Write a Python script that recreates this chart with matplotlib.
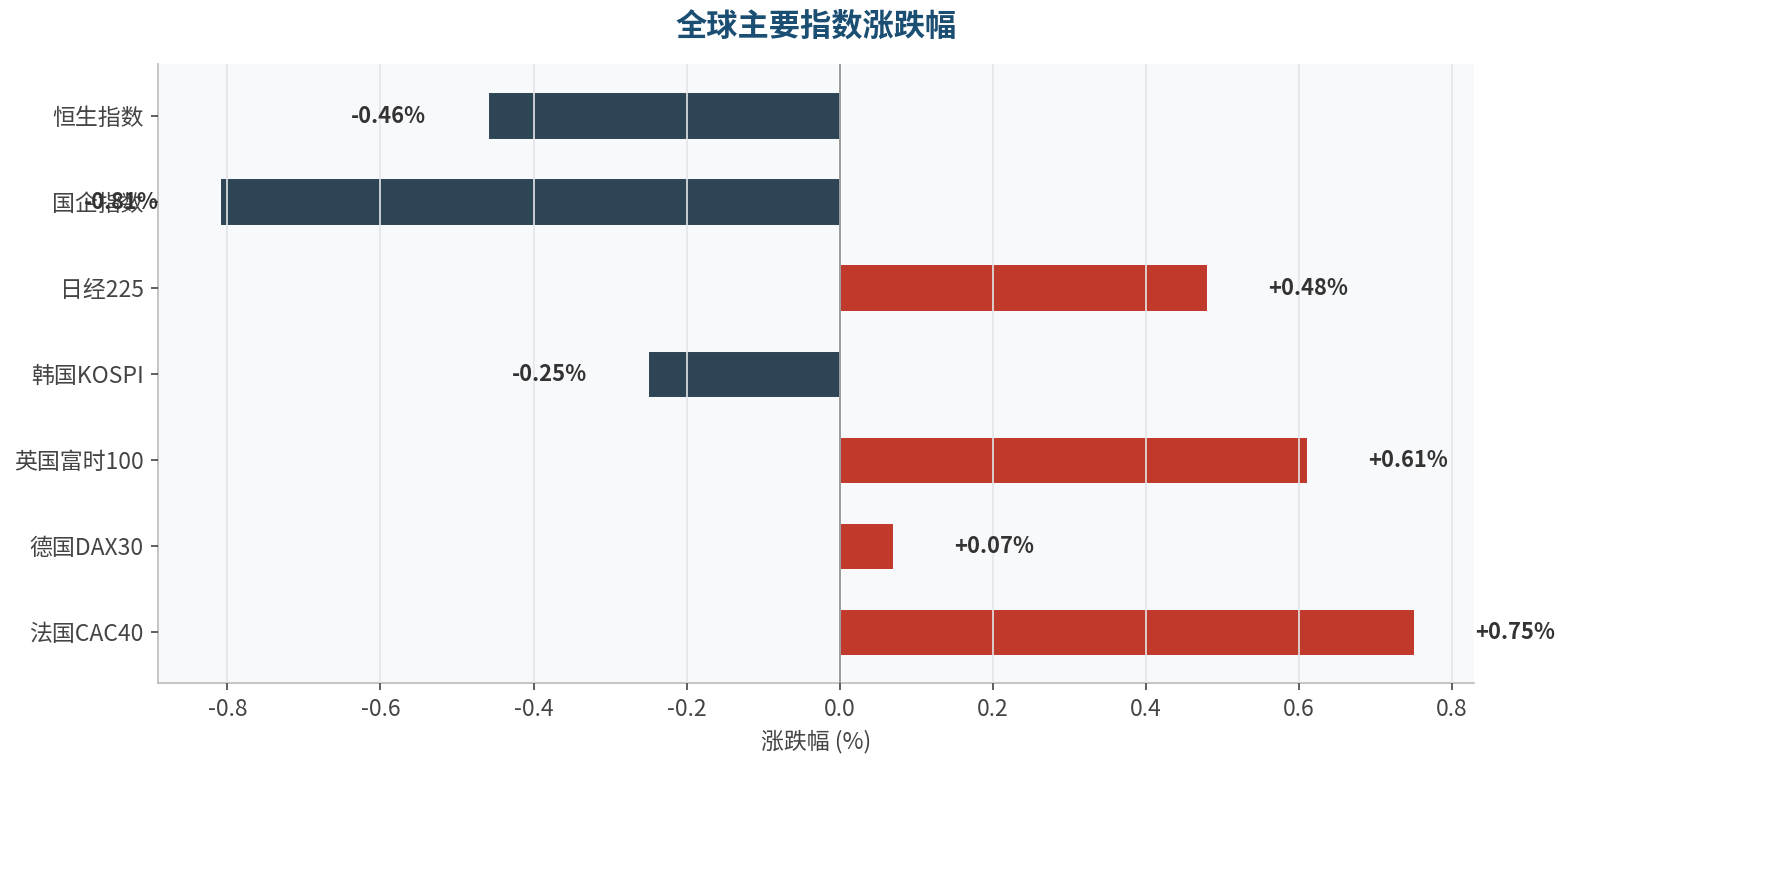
import matplotlib
matplotlib.use("Agg")
import matplotlib.pyplot as plt
import numpy as np

plt.rcParams['font.family'] = ['Noto Sans CJK SC', 'DejaVu Sans']
plt.rcParams['axes.unicode_minus'] = False

indices = ['恒生指数', '国企指数', '日经225', '韩国KOSPI', '英国富时100', '德国DAX30', '法国CAC40']
changes = [-0.46, -0.81, 0.48, -0.25, 0.61, 0.07, 0.75]

fig, ax = plt.subplots(figsize=(11.87, 5.83), dpi=150)
ax.set_facecolor('#F8F9FB')

y = np.arange(len(indices))
colors = ['#C0392B' if v > 0 else '#2E4556' for v in changes]
ax.barh(y, changes, height=0.54, color=colors, edgecolor='#F8F9FB', linewidth=0.5, zorder=2)
ax.axvline(0, color='#999999', linewidth=0.9, zorder=3)

for yi, v in zip(y, changes):
    if v > 0:
        ax.text(v + 0.08, yi, '+%.2f%%' % v, ha='left', va='center',
                fontsize=10.5, fontweight='bold', color='#333333')
    else:
        ax.text(v - 0.08, yi, '%.2f%%' % v, ha='right', va='center',
                fontsize=10.5, fontweight='bold', color='#333333')

ax.set_yticks(y)
ax.set_yticklabels(indices)
ax.invert_yaxis()
ax.set_xlim(-0.89, 0.829)
ax.set_xticks([-0.8, -0.6, -0.4, -0.2, 0.0, 0.2, 0.4, 0.6, 0.8])
ax.xaxis.grid(True, color='#E3E5E8', linewidth=0.8, zorder=2.5)
ax.set_axisbelow(False)
ax.tick_params(axis='both', labelsize=11, colors='#444444')
ax.set_xlabel('涨跌幅 (%)', fontsize=11, color='#444444')
for s in ['top', 'right']:
    ax.spines[s].set_visible(False)
for s in ['left', 'bottom']:
    ax.spines[s].set_color('#BBBBBB')

ax.set_title('全球主要指数涨跌幅', fontsize=15, fontweight='bold', color='#1A4E72', pad=14)

fig.subplots_adjust(left=0.089, right=0.828, top=0.926, bottom=0.218)
fig.savefig('out.png', dpi=150)
